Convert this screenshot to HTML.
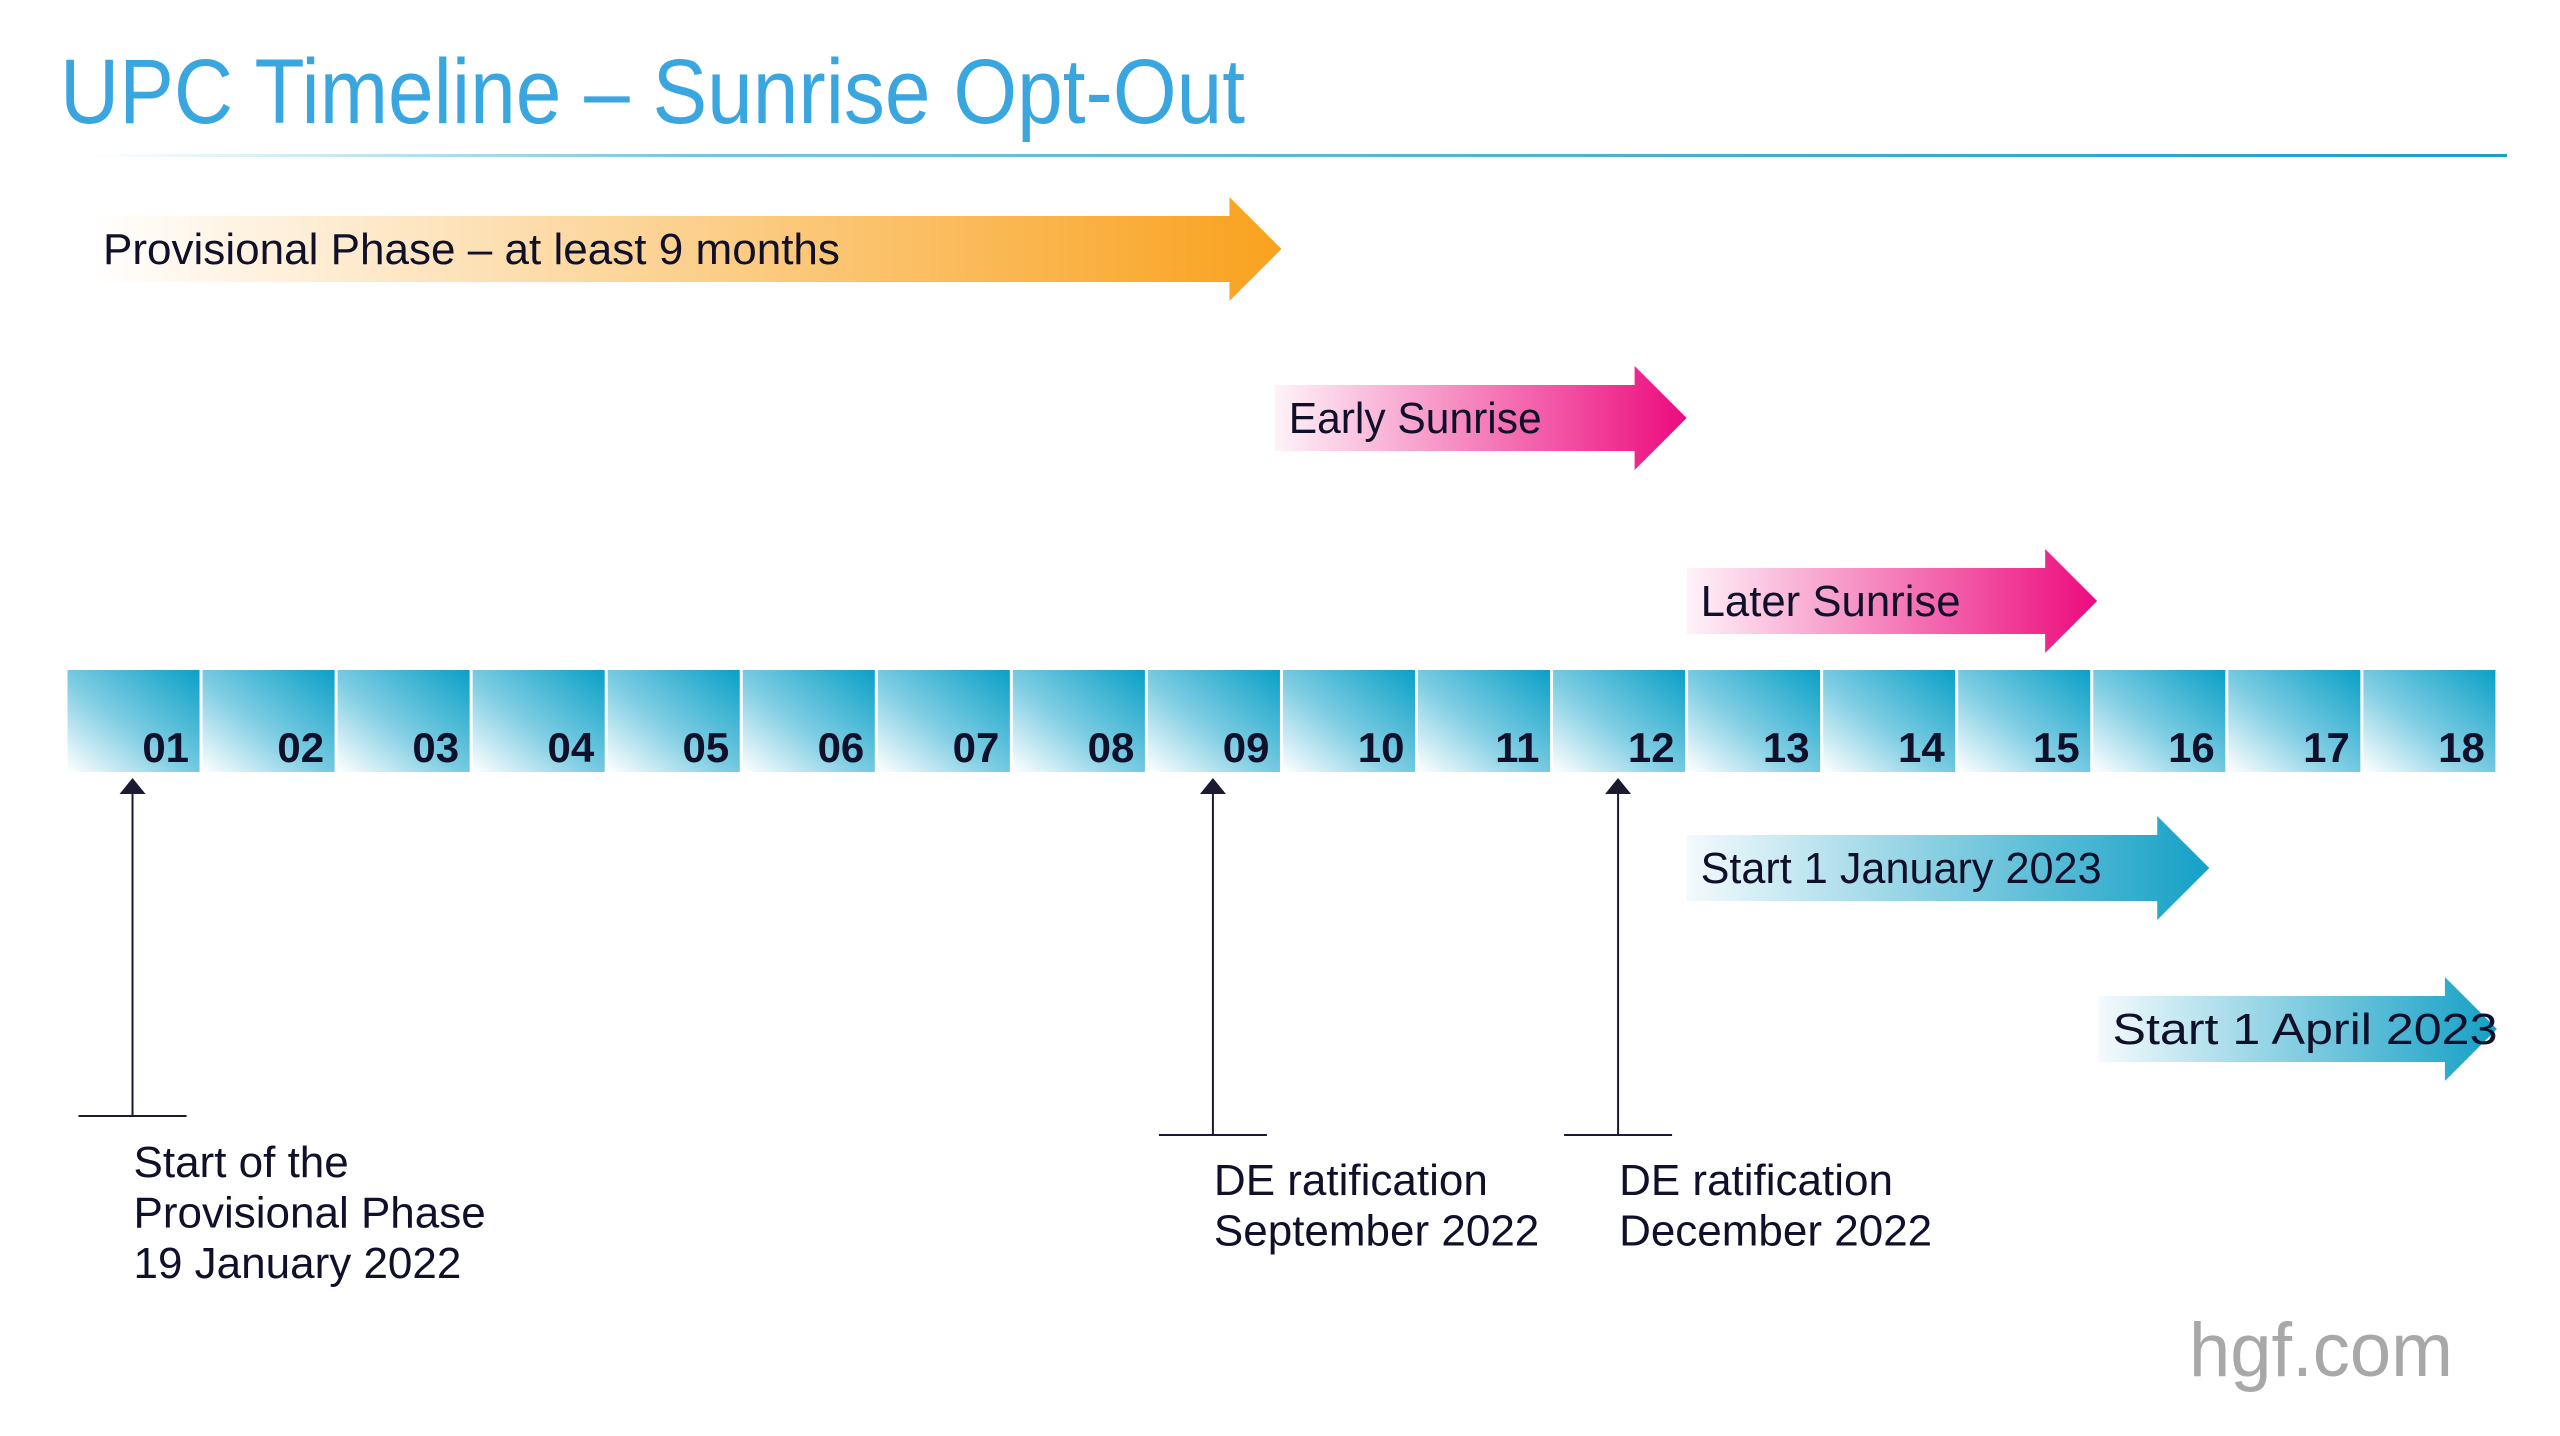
<!DOCTYPE html>
<html><head><meta charset="utf-8"><style>
html,body{margin:0;padding:0;background:#fff;}
svg{display:block;font-family:"Liberation Sans",sans-serif;}
</style></head><body>
<svg id="chart" width="2560" height="1436" viewBox="0 0 2560 1436" xmlns="http://www.w3.org/2000/svg">
<defs>
<linearGradient id="gLine" x1="0" x2="1" y1="0" y2="0"><stop offset="0" stop-color="#1aa0c8" stop-opacity="0"/><stop offset="0.25" stop-color="#1aa0c8" stop-opacity="0.6"/><stop offset="1" stop-color="#1aa0c8"/></linearGradient>
<linearGradient id="gOrange" x1="0" x2="1"><stop offset="0" stop-color="#f9a21e" stop-opacity="0"/><stop offset="1" stop-color="#f9a21e"/></linearGradient>
<linearGradient id="gPink" x1="0" x2="1"><stop offset="0" stop-color="#ec0b7d" stop-opacity="0.05"/><stop offset="1" stop-color="#ec0b7d"/></linearGradient>
<linearGradient id="gTeal" x1="0" x2="1"><stop offset="0" stop-color="#14a0c6" stop-opacity="0.05"/><stop offset="1" stop-color="#14a0c6"/></linearGradient>
<linearGradient id="gBox" x1="0" y1="1" x2="1" y2="0"><stop offset="0" stop-color="#ffffff"/><stop offset="0.45" stop-color="#7fcde3"/><stop offset="1" stop-color="#0aa0c6"/></linearGradient>
</defs>
<text x="60" y="123" font-size="92" fill="#3aa6e0" textLength="1185" lengthAdjust="spacingAndGlyphs">UPC Timeline – Sunrise Opt-Out</text>
<rect x="90" y="154" width="2417" height="3" fill="url(#gLine)"/>
<g id="boxes"></g>
<g id="arrows"></g>
<g id="markers"></g>
<text x="2189" y="1376" font-size="76" fill="#a8a8a8" textLength="264" lengthAdjust="spacingAndGlyphs">hgf.com</text>
</svg>
<script>
const months = ["01","02","03","04","05","06","07","08","09","10","11","12","13","14","15","16","17","18"];
const phaseLabels = ["Provisional Phase – at least 9 months","Early Sunrise","Later Sunrise","Start 1 January 2023","Start 1 April 2023"];
const phaseStart = [0.17, 8.95, 12.0, 12.0, 15.05];
const phaseEnd = [9.0, 12.0, 15.04, 15.87, 18.0];
const phaseRow = [0, 1, 2, 3, 4];
const phaseColor = ["gOrange","gPink","gPink","gTeal","gTeal"];
const phaseTextWidth = [737, 253, 260, 401, 385];
const markerMonth = [0.5, 8.5, 11.5];
const markerLines = [["Start of the","Provisional Phase","19 January 2022"],["DE ratification","September 2022"],["DE ratification","December 2022"]];

const NS="http://www.w3.org/2000/svg";
const x0=66, mw=135.05, boxTop=670, boxH=102;
const xm = m => x0 + m*mw;
const rowY = [249, 418, 601, 868, 1029];
function el(tag, attrs, parent){const e=document.createElementNS(NS,tag);for(const k in attrs)e.setAttribute(k,attrs[k]);parent.appendChild(e);return e;}

const gb=document.getElementById('boxes');
months.forEach((m,i)=>{
  const r=el('rect',{x:xm(i)+1.5,y:boxTop,width:mw-3,height:boxH,fill:'url(#gBox)'},gb);
  
  
  const t=el('text',{x:xm(i+1)-12,y:762,'font-size':42,'font-weight':'bold','text-anchor':'end',fill:'#10102a'},gb);
  
  
  t.textContent=m;
});

const ga=document.getElementById('arrows');
phaseLabels.forEach((lab,i)=>{
  const xs=xm(phaseStart[i]), xe=xm(phaseEnd[i]), cy=rowY[phaseRow[i]];
  const bh=33, hh=52, hl=52;
  const pts=[[xs,cy-bh],[xe-hl,cy-bh],[xe-hl,cy-hh],[xe,cy],[xe-hl,cy+hh],[xe-hl,cy+bh],[xs,cy+bh]].map(p=>p.join(',')).join(' ');
  const p=el('polygon',{points:pts,fill:'url(#'+phaseColor[i]+')'},ga);
  
  
  const t=el('text',{x:xs+14,y:cy+15,'font-size':44,fill:'#10102a',textLength:phaseTextWidth[i],lengthAdjust:'spacingAndGlyphs'},ga);
  
  
  t.textContent=lab;
});

const gm=document.getElementById('markers');
markerMonth.forEach((m,i)=>{
  const x=xm(m)-1;
  const yb = i===0?1116:1135;
  const l=el('line',{x1:x,y1:792,x2:x,y2:yb,stroke:'#1a1a33','stroke-width':2},gm);
  
  
  const h=el('polygon',{points:`${x-13},${794} ${x+13},${794} ${x},${778}`,fill:'#1a1a33'},gm);
  
  
  const b=el('line',{x1:x-54,y1:yb,x2:x+54,y2:yb,stroke:'#1a1a33','stroke-width':2},gm);
  
  
  const ty0 = i===0?1177:1195;
  markerLines[i].forEach((s,j)=>{
    const t=el('text',{x:x+1,y:ty0+j*50.5,'font-size':44,fill:'#10102a'},gm);
    
    
    t.textContent=s;
  });
});
</script>
</body></html>
